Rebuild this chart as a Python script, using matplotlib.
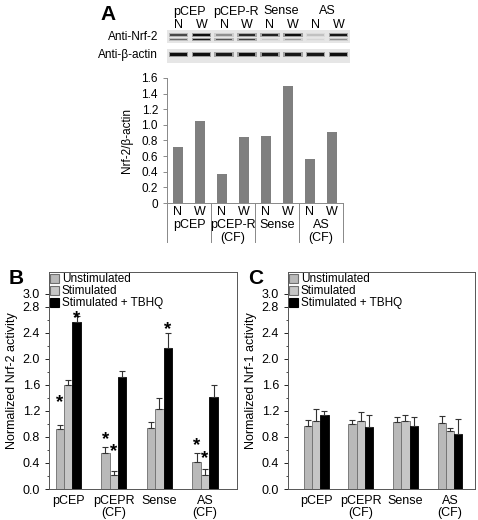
import matplotlib
matplotlib.use("Agg")
import matplotlib.pyplot as plt
import matplotlib.transforms as mtransforms
from matplotlib.patches import Patch
import numpy as np

plt.rcParams["font.family"] = ["Liberation Sans", "DejaVu Sans"]

# ---- data ----
lanes = ["N", "W", "N", "W", "N", "W", "N", "W"]
lane_groups = ["pCEP", "pCEP-R", "Sense", "AS"]
axis_groups = ["pCEP", "pCEP-R\n(CF)", "Sense", "AS\n(CF)"]

# band darkness read from the blot (0 = none, 1 = black)
nrf2_upper = [0.60, 0.90, 0.30, 0.75, 0.80, 0.90, 0.12, 0.85]
nrf2_lower = [0.45, 0.85, 0.55, 0.65, 0.10, 0.25, 0.05, 0.30]
actin_band = [0.90, 0.90, 0.85, 0.90, 0.85, 0.85, 0.85, 0.90]

ratio = [0.72, 1.05, 0.37, 0.84, 0.86, 1.50, 0.56, 0.91]

groups = ["pCEP", "pCEPR\n(CF)", "Sense", "AS\n(CF)"]
series = ["Unstimulated", "Stimulated", "Stimulated + TBHQ"]

nrf2_mean = [[0.92, 0.56, 0.93, 0.42],
             [1.60, 0.22, 1.23, 0.22],
             [2.56, 1.72, 2.17, 1.41]]
nrf2_err = [[0.06, 0.08, 0.10, 0.13],
            [0.08, 0.05, 0.16, 0.09],
            [0.10, 0.09, 0.23, 0.19]]
# significance stars: (series, group, height)
nrf2_stars = [(0, 0, 1.32), (2, 0, 2.62), (0, 1, 0.76), (1, 1, 0.57),
              (2, 2, 2.45), (0, 3, 0.66), (1, 3, 0.46)]

nrf1_mean = [[0.97, 0.99, 1.03, 1.01],
             [1.04, 1.05, 1.05, 0.89],
             [1.14, 0.95, 0.97, 0.85]]
nrf1_err = [[0.09, 0.07, 0.08, 0.11],
            [0.18, 0.13, 0.09, 0.05],
            [0.06, 0.18, 0.13, 0.22]]

colors = ["#b9b9b9", "#c6c6c6", "#000000"]
edges = ["#6e6e6e", "#6e6e6e", "#000000"]

W, H = 478, 520
fig = plt.figure(figsize=(W / 100, H / 100), dpi=100)


def px(l, t, r, b):
    return [l / W, 1 - b / H, (r - l) / W, (b - t) / H]


# ---- panel A: blot ----
blot = fig.add_axes(px(167, 30, 350, 63))
blot.set_xlim(-0.5, 7.5)
blot.set_ylim(0, 33)
blot.axis("off")
x = np.arange(len(lanes))
for y0, y1 in [(20, 33), (0, 14)]:
    blot.bar(3.5, y1 - y0, width=8, bottom=y0, color="#e6e6e6")


def band(i, yc, h, dark):
    # soft halo + core so the bands look a little smeared
    blot.bar(i, h + 2, width=0.85, bottom=yc - (h + 2) / 2, color="black",
             alpha=dark * 0.35, lw=0)
    blot.bar(i, h, width=0.72, bottom=yc - h / 2, color="black", alpha=dark, lw=0)


for i in x:
    band(i, 28.0, 2.2, nrf2_upper[i])
    band(i, 23.5, 1.6, nrf2_lower[i])
    band(i, 8.5, 2.8, actin_band[i])
for i, lab in enumerate(lanes):
    blot.text(i, 37.5, lab, ha="center", va="center", fontsize=9, clip_on=False)
for g, lab in enumerate(lane_groups):
    blot.text(2 * g + 0.5, 51.5, lab, ha="center", va="center", fontsize=9, clip_on=False)
blot.text(-0.9, 26, "Anti-Nrf-2", ha="right", va="center", fontsize=8.5)
blot.text(-0.9, 8, "Anti-\u03b2-actin", ha="right", va="center", fontsize=8.5)
fig.text(100 / W, 1 - 14 / H, "A", fontsize=15, fontweight="bold", va="center")

# ---- panel A: ratio bars ----
axA = fig.add_axes(px(167, 78, 343, 203))
axA.bar(x, ratio, width=0.42, color="#7f7f7f")
axA.set_xlim(-0.5, 7.5)
axA.set_ylim(0, 1.6)
axA.set_yticks(np.arange(0, 1.61, 0.2))
axA.set_yticklabels(["0"] + [f"{v:.1f}" for v in np.arange(0.2, 1.61, 0.2)])
axA.tick_params(axis="y", labelsize=8.5, length=3, width=0.6, color="#777777")
axA.set_xticks(x)
axA.set_xticklabels(lanes, fontsize=9)
axA.tick_params(axis="x", length=0, pad=2)
for s in ["top", "right"]:
    axA.spines[s].set_visible(False)
for s in ["left", "bottom"]:
    axA.spines[s].set_color("#888888")
    axA.spines[s].set_linewidth(0.7)
axA.set_ylabel("Nrf-2/\u03b2-actin", fontsize=8.5, labelpad=6)
trA = mtransforms.blended_transform_factory(axA.transData, axA.transAxes)
for sep in np.arange(-0.5, 8, 2):
    axA.plot([sep, sep], [0, -0.31], transform=trA, color="#888888", lw=0.7, clip_on=False)
for g, lab in enumerate(axis_groups):
    axA.text(2 * g + 0.5, -0.13, lab, transform=trA, ha="center", va="top",
             fontsize=9, linespacing=1.05)


# ---- panels B and C ----
def activity_panel(rect, xlim, means, errs, ylabel, letter, stars):
    ax = fig.add_axes(rect)
    gx = np.arange(len(groups))
    w = 0.185
    for k in range(3):
        ax.bar(gx + (k - 1) * w, means[k], width=w, color=colors[k],
               edgecolor=edges[k], linewidth=0.6,
               yerr=[np.zeros(len(groups)), errs[k]],
               error_kw=dict(ecolor="#333333", elinewidth=0.8, capsize=2, capthick=0.8))
    for k, g, h in stars:
        ax.text(g + (k - 1) * w, h, "*", ha="center", va="center", fontsize=13.5,
                fontweight="bold")
    ax.set_ylim(0, 3.33)
    ax.set_xlim(*xlim)
    ticks = [0.0, 0.4, 0.8, 1.2, 1.6, 2.0, 2.4, 2.8, 3.0]
    ax.set_yticks(ticks)
    ax.set_yticklabels([f"{v:.1f}" for v in ticks])
    ax.set_yticks(np.arange(0, 3.01, 0.2), minor=True)
    ax.tick_params(axis="y", which="major", labelsize=9, length=3, width=0.6)
    ax.tick_params(axis="y", which="minor", length=1.5, width=0.5)
    ax.set_xticks(gx)
    ax.set_xticklabels(groups, fontsize=9, linespacing=1.0)
    ax.tick_params(axis="x", length=0, pad=4)
    for s in ax.spines.values():
        s.set_color("#555555")
        s.set_linewidth(0.7)
    ax.set_ylabel(ylabel, fontsize=9, labelpad=3)
    handles = [Patch(facecolor=colors[k], edgecolor=edges[k], linewidth=0.8) for k in range(3)]
    ax.legend(handles, series, loc="upper left", frameon=False, fontsize=8.5,
              handlelength=0.75, handleheight=0.8, handletextpad=0.25,
              labelspacing=0.0, borderpad=0.1, borderaxespad=0.0)
    pos = ax.get_position()
    fig.text(pos.x0 - 40 / W, pos.y1 - 6 / H, letter, fontsize=15, fontweight="bold",
             va="center")
    return ax


activity_panel(px(49, 272, 237, 489), (-0.42, 3.7), nrf2_mean, nrf2_err,
               "Normalized Nrf-2 activity", "B", nrf2_stars)
activity_panel(px(288, 272, 475, 489), (-0.63, 3.56), nrf1_mean, nrf1_err,
               "Normalized Nrf-1 activity", "C", [])

fig.savefig("out.png", dpi=100)
